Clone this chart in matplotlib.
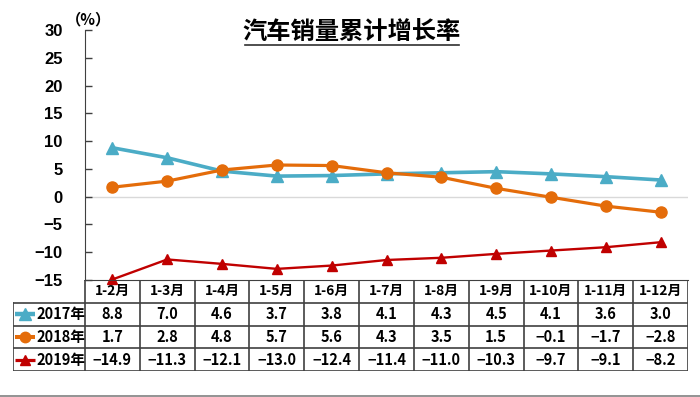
import matplotlib
matplotlib.use("Agg")
import matplotlib.pyplot as plt
from matplotlib.lines import Line2D

plt.rcParams['font.family'] = ['Noto Sans CJK SC', 'DejaVu Sans']

categories = ["1-2月", "1-3月", "1-4月", "1-5月", "1-6月", "1-7月",
              "1-8月", "1-9月", "1-10月", "1-11月", "1-12月"]
series_names = ["2017年", "2018年", "2019年"]
v2017 = [8.8, 7.0, 4.6, 3.7, 3.8, 4.1, 4.3, 4.5, 4.1, 3.6, 3.0]
v2018 = [1.7, 2.8, 4.8, 5.7, 5.6, 4.3, 3.5, 1.5, -0.1, -1.7, -2.8]
v2019 = [-14.9, -11.3, -12.1, -13.0, -12.4, -11.4, -11.0, -10.3, -9.7, -9.1, -8.2]
yticks = [30, 25, 20, 15, 10, 5, 0, -5, -10, -15]
title = "汽车销量累计增长率"
unit = "（%）"

W, H = 700, 397
fig = plt.figure(figsize=(W / 100, H / 100), dpi=100)

ax_l, ax_r, ax_t, ax_b = 85, 688, 30, 280
ax = fig.add_axes([ax_l / W, 1 - ax_b / H, (ax_r - ax_l) / W, (ax_b - ax_t) / H])

styles = [
    dict(color="#4BACC6", marker="^", lw=2.6, ms=8.5),
    dict(color="#E46C0A", marker="o", lw=2.3, ms=8),
    dict(color="#C00000", marker="^", lw=1.7, ms=7.5),
]
data = [v2017, v2018, v2019]
x = list(range(len(categories)))
ax.axhline(0, color="#D9D9D9", lw=1, zorder=1)
for vals, st in zip(data, styles):
    ax.plot(x, vals, color=st["color"], lw=st["lw"], marker=st["marker"],
            ms=st["ms"], zorder=3, clip_on=False)

ax.set_xlim(-0.5, len(categories) - 0.5)
ax.set_ylim(-15, 30)
ax.set_yticks(yticks)
ax.set_yticklabels([f"{t}".replace("-", "\u2212") for t in yticks],
                   fontfamily="Liberation Sans", fontweight="bold", fontsize=12)
ax.tick_params(axis="y", direction="in", length=5, width=1, pad=16, color="#404040")
ax.set_xticks([])
for s in ["top", "right"]:
    ax.spines[s].set_visible(False)
ax.spines["left"].set_color("#404040")
ax.spines["bottom"].set_color("#404040")
ax.patch.set_alpha(0)

# unit label
fig.text(88 / W, 1 - 19 / H, unit, fontsize=11, fontweight="heavy",
         ha="center", va="center")

# title with underline
fig.text(352 / W, 1 - 32 / H, title, fontsize=17.5, fontweight="bold",
         ha="center", va="center")
fig.add_artist(Line2D([245 / W, 459 / W], [1 - 45 / H, 1 - 45 / H],
                      color="#303030", lw=1.2))

# table
tab_l, tab_t, tab_b = 13, 280, 371
tab = fig.add_axes([tab_l / W, 1 - tab_b / H, (ax_r - tab_l) / W, (tab_b - tab_t) / H])
colw = (ax_r - ax_l) / len(categories)
left_x = -0.5 - (ax_l - tab_l) / colw
tab.set_xlim(left_x, len(categories) - 0.5)
tab.set_ylim(4, 0)
tab.axis("off")
lc = "#404040"
lw = 1.2
tab.plot([-0.5, len(categories) - 0.5], [0, 0], color=lc, lw=lw)
for r in [1, 2, 3, 4]:
    tab.plot([left_x, len(categories) - 0.5], [r, r], color=lc, lw=lw)
for c in range(len(categories) + 1):
    tab.plot([c - 0.5, c - 0.5], [0, 4], color=lc, lw=lw)
tab.plot([left_x, left_x], [1, 4], color=lc, lw=lw)

for i, cat in enumerate(categories):
    tab.text(i, 0.5, cat, ha="center", va="center", fontsize=10, fontweight="bold")
for r, (name, vals, st) in enumerate(zip(series_names, data, styles)):
    y = r + 1.5
    for i, v in enumerate(vals):
        tab.text(i, y, f"{v:.1f}".replace("-", "\u2212"), ha="center", va="center",
                 fontsize=10.5, fontweight="bold")
    lx0 = left_x + 0.04
    lx1 = left_x + 0.40
    tab.plot([lx0, lx1], [y, y], color=st["color"], lw=st["lw"] + 0.6,
             solid_capstyle="butt")
    tab.plot([(lx0 + lx1) / 2], [y], color=st["color"], marker=st["marker"],
             ms=st["ms"] - 0.5, ls="none")
    tab.text(left_x + 0.43, y, name, ha="left", va="center", fontsize=10.5,
             fontweight="bold")

fig.add_artist(Line2D([0, 1], [1.5 / H, 1.5 / H], color="#808080", lw=1.2))

fig.savefig("out.png", dpi=100)
